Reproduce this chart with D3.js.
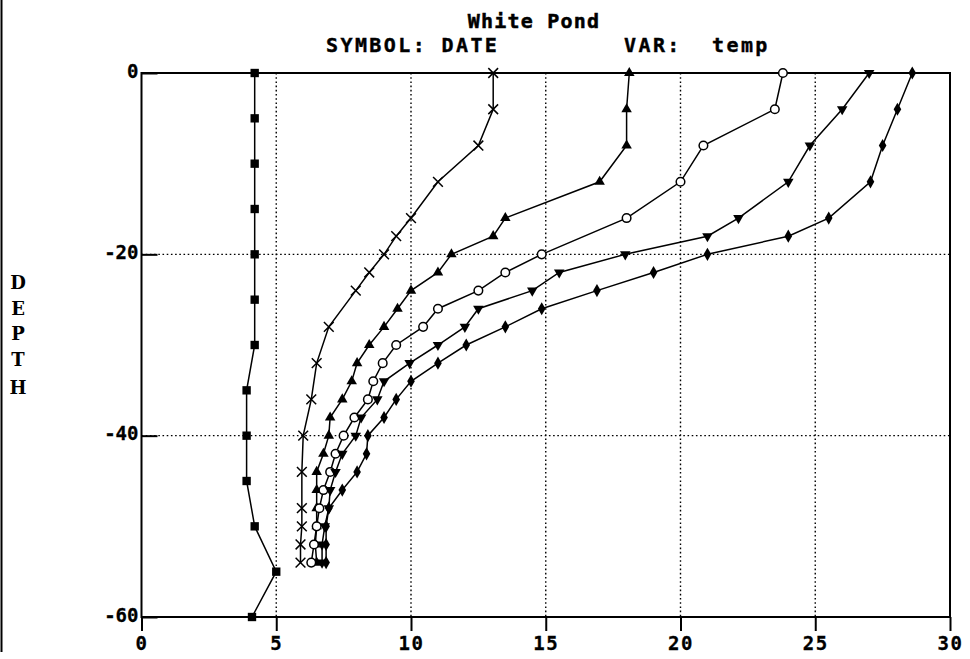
<!DOCTYPE html>
<html>
<head>
<meta charset="utf-8">
<script src="https://cdn.jsdelivr.net/npm/d3@7/dist/d3.min.js"></script>
<style>
  html, body { margin: 0; padding: 0; background: #fff; }
  svg { display: block; }
  text { fill: #000; }
</style>
</head>
<body>
<svg id="chart" width="970" height="659"></svg>
<script>
// Temperature profiles (°C) against depth for White Pond, one series per sampling date.
const xTicks = [0, 5, 10, 15, 20, 25, 30];
const yTicks = [0, -20, -40, -60];

const squareDepth = [0, -5, -10, -15, -20, -25, -30, -35, -40, -45, -50, -55, -60];
const squareTemp  = [4.2, 4.2, 4.2, 4.2, 4.2, 4.2, 4.2, 3.9, 3.9, 3.9, 4.2, 5.0, 4.1];

const crossDepth = [0, -4, -8, -12, -16, -18, -20, -22, -24, -28, -32, -36, -40, -44, -48, -50, -52, -54];
const crossTemp  = [13.05, 13.05, 12.5, 11.0, 10.0, 9.45, 9.0, 8.45, 7.95, 6.95, 6.5, 6.3, 6.0, 5.95, 5.95, 5.95, 5.9, 5.9];

const triDepth = [0, -4, -8, -12, -16, -18, -20, -22, -24, -26, -28, -30, -32, -34, -36, -38, -40, -42, -44, -46, -48, -50, -52, -54];
const triTemp  = [18.1, 18.0, 18.0, 17.0, 13.5, 13.05, 11.5, 11.0, 10.0, 9.5, 9.0, 8.45, 8.0, 7.8, 7.45, 7.0, 6.95, 6.75, 6.5, 6.5, 6.5, 6.5, 6.45, 6.5];

const circleDepth = [0, -4, -8, -12, -16, -20, -22, -24, -26, -28, -30, -32, -34, -36, -38, -40, -42, -44, -46, -48, -50, -52, -54];
const circleTemp  = [23.8, 23.5, 20.85, 20.0, 18.0, 14.85, 13.5, 12.5, 11.0, 10.45, 9.45, 8.95, 8.6, 8.4, 7.9, 7.5, 7.2, 7.0, 6.75, 6.6, 6.5, 6.4, 6.3];

const downDepth = [0, -4, -8, -12, -16, -18, -20, -22, -24, -26, -28, -30, -32, -34, -36, -38, -40, -42, -44, -46, -48, -50, -52, -54];
const downTemp  = [27.0, 26.0, 24.8, 24.0, 22.15, 21.0, 17.95, 15.5, 14.5, 12.5, 12.0, 11.0, 9.95, 9.0, 8.75, 8.15, 7.95, 7.45, 7.2, 7.0, 6.95, 6.8, 6.7, 6.7];

const diamondDepth = [0, -4, -8, -12, -16, -18, -20, -22, -24, -26, -28, -30, -32, -34, -36, -38, -40, -42, -44, -46, -48, -50, -52, -54];
const diamondTemp  = [28.6, 28.05, 27.5, 27.05, 25.5, 24.0, 21.0, 19.0, 16.9, 14.85, 13.5, 12.05, 11.0, 10.0, 9.45, 9.0, 8.4, 8.35, 8.0, 7.45, 6.95, 6.85, 6.85, 6.85];

const series = [
  { depth: squareDepth,  temp: squareTemp,  mark: "square" },
  { depth: crossDepth,   temp: crossTemp,   mark: "cross" },
  { depth: triDepth,     temp: triTemp,     mark: "triUp" },
  { depth: circleDepth,  temp: circleTemp,  mark: "circle" },
  { depth: downDepth,    temp: downTemp,    mark: "triDown" },
  { depth: diamondDepth, temp: diamondTemp, mark: "diamond" }
];

const svg = d3.select("#chart");
const plotLeft = 141.5, plotRight = 950, plotTop = 73, plotBottom = 617;

const x = d3.scaleLinear().domain([0, 30]).range([plotLeft, plotRight]);
const y = d3.scaleLinear().domain([0, -60]).range([plotTop, plotBottom]);

const mono = "'DejaVu Sans Mono', monospace";

// page edge rule
svg.append("line").attr("x1", 1.5).attr("x2", 1.5).attr("y1", 0).attr("y2", 652)
  .attr("stroke", "#000").attr("stroke-width", 2);

// titles (slight outline thickens the monospace glyphs)
svg.append("text").attr("x", 534).attr("y", 28).attr("text-anchor", "middle")
  .attr("font-family", mono).attr("font-weight", "bold").attr("font-size", 20)
  .attr("stroke", "#000").attr("stroke-width", 0.5)
  .attr("letter-spacing", 1.2).text("White Pond");
const sub = svg.append("g").attr("font-family", mono).attr("font-weight", "bold")
  .attr("font-size", 20).attr("letter-spacing", 2.4)
  .attr("stroke", "#000").attr("stroke-width", 0.4);
sub.append("text").attr("x", 326).attr("y", 52).text("SYMBOL: DATE");
sub.append("text").attr("x", 624).attr("y", 52).text("VAR:");
sub.append("text").attr("x", 712).attr("y", 52).text("temp");

// vertical axis title, one letter per line
const letters = ["D", "E", "P", "T", "H"];
const letterY = [289, 315, 340, 366, 394];
svg.append("g").selectAll("text").data(letters).join("text")
  .attr("x", 18).attr("y", (d, i) => letterY[i]).attr("text-anchor", "middle")
  .attr("font-family", "'DejaVu Serif', serif").attr("font-weight", "bold")
  .attr("font-size", 18).text(d => d);

// dotted grid
const grid = svg.append("g").attr("stroke", "#000").attr("stroke-width", 1.4)
  .attr("stroke-dasharray", "1.6,2.6");
grid.selectAll(".gx").data(xTicks.filter(v => v > 0 && v < 30)).join("line")
  .attr("x1", d => x(d)).attr("x2", d => x(d)).attr("y1", plotTop).attr("y2", plotBottom);
grid.selectAll(".gy").data(yTicks.filter(v => v < 0 && v > -60)).join("line")
  .attr("x1", plotLeft).attr("x2", plotRight).attr("y1", d => y(d)).attr("y2", d => y(d));

// axes
const xAxis = d3.axisBottom(x).tickValues(xTicks).tickSize(14).tickPadding(6)
  .tickFormat(d3.format("d"));
const gx = svg.append("g").attr("transform", `translate(0,${plotBottom})`).call(xAxis);
const yAxis = d3.axisLeft(y).tickValues(yTicks).tickSizeInner(-16).tickSizeOuter(0)
  .tickPadding(3).tickFormat(d => d3.format("d")(d).replace("−", "-"));
const gy = svg.append("g").attr("transform", `translate(${plotLeft},0)`).call(yAxis);
[gx, gy].forEach(g => {
  g.select(".domain").remove();
  g.selectAll(".tick line").attr("stroke", "#000").attr("stroke-width", 2);
  g.selectAll("text").attr("font-family", mono).attr("font-weight", "bold")
    .attr("font-size", 19).attr("fill", "#000")
    .attr("stroke", "#000").attr("stroke-width", 0.3);
});
gx.selectAll(".tick text").attr("letter-spacing", 1.5);
gy.selectAll(".tick text").attr("dy", "0.22em");

// frame
svg.append("rect").attr("x", plotLeft).attr("y", plotTop).attr("width", plotRight - plotLeft)
  .attr("height", plotBottom - plotTop).attr("fill", "none").attr("stroke", "#000")
  .attr("stroke-width", 2);

// profiles
const line = d3.line().x(d => x(d.t)).y(d => y(d.z));
const sym = {
  square: d3.symbol().type(d3.symbolSquare).size(70),
  triUp: d3.symbol().type(d3.symbolTriangle).size(48),
  diamond: d3.symbol().type(d3.symbolDiamond).size(50),
  cross: d3.symbol().type(d3.symbolX).size(64)
};

series.forEach(s => {
  const pts = s.depth.map((z, i) => ({ z, t: s.temp[i] }));
  svg.append("path").datum(pts).attr("d", line).attr("fill", "none")
    .attr("stroke", "#000").attr("stroke-width", 1.5);
  const g = svg.append("g");
  const nodes = g.selectAll("path").data(pts).join("path")
    .attr("transform", d => `translate(${x(d.t)},${y(d.z)})`);
  if (s.mark === "circle") {
    nodes.attr("d", d3.symbol().type(d3.symbolCircle).size(58)())
      .attr("fill", "#fff").attr("stroke", "#000").attr("stroke-width", 1.5);
  } else if (s.mark === "cross") {
    nodes.attr("d", sym.cross()).attr("fill", "none").attr("stroke", "#000")
      .attr("stroke-width", 1.5);
  } else if (s.mark === "triDown") {
    nodes.attr("d", sym.triUp()).attr("fill", "#000")
      .attr("transform", d => `translate(${x(d.t)},${y(d.z)}) rotate(180)`);
  } else {
    nodes.attr("d", sym[s.mark]()).attr("fill", "#000");
  }
});
</script>
</body>
</html>
